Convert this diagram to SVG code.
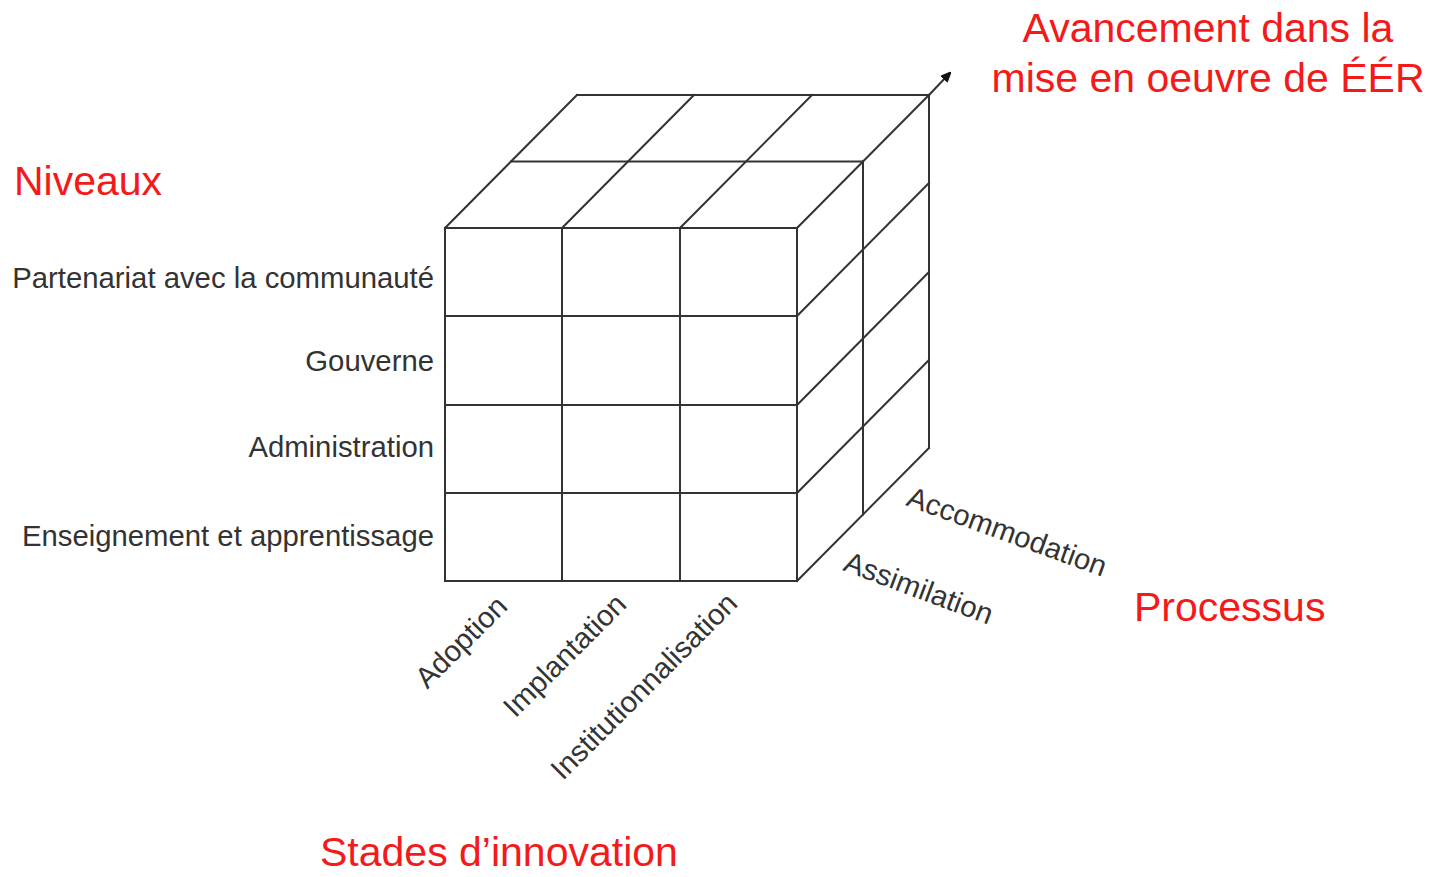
<svg xmlns="http://www.w3.org/2000/svg" width="1429" height="877" viewBox="0 0 1429 877">
<style>
.g{stroke:#333;stroke-width:2;fill:none;stroke-linecap:square}
.t{font-family:"Liberation Sans",Arial,sans-serif;font-size:29.3px;fill:#333}
.r{font-family:"Liberation Sans",Arial,sans-serif;font-size:41px;fill:#f41a1a}
</style>
<defs>
<marker id="ah" markerWidth="10" markerHeight="10" refX="6" refY="5" orient="auto" markerUnits="userSpaceOnUse"><path d="M0,0 L12,5 L0,10 z" fill="#111"/></marker>
</defs>
<rect width="1429" height="877" fill="#fff"/>
<g id="connectors">
<line class="g" x1="929" y1="95" x2="948" y2="75" marker-end="url(#ah)"/>
</g>
<g id="cube">
<rect class="g" x="445" y="228" width="352" height="353"/>
<line class="g" x1="562" y1="228" x2="562" y2="581"/>
<line class="g" x1="680" y1="228" x2="680" y2="581"/>
<line class="g" x1="445" y1="316" x2="797" y2="316"/>
<line class="g" x1="445" y1="405" x2="797" y2="405"/>
<line class="g" x1="445" y1="493" x2="797" y2="493"/>
<line class="g" x1="577" y1="95" x2="929" y2="95"/>
<line class="g" x1="511" y1="161.5" x2="863" y2="161.5"/>
<line class="g" x1="445" y1="228" x2="577" y2="95"/>
<line class="g" x1="562" y1="228" x2="694" y2="95"/>
<line class="g" x1="680" y1="228" x2="812" y2="95"/>
<line class="g" x1="797" y1="228" x2="929" y2="95"/>
<line class="g" x1="863" y1="161.5" x2="863" y2="514.5"/>
<line class="g" x1="929" y1="95" x2="929" y2="448"/>
<line class="g" x1="797" y1="316" x2="929" y2="183"/>
<line class="g" x1="797" y1="405" x2="929" y2="272"/>
<line class="g" x1="797" y1="493" x2="929" y2="360"/>
<line class="g" x1="797" y1="581" x2="929" y2="448"/>
</g>
<g id="levels" text-anchor="end">
<text class="t" x="434" y="288">Partenariat avec la communauté</text>
<text class="t" x="434" y="371">Gouverne</text>
<text class="t" x="434" y="457">Administration</text>
<text class="t" x="434" y="546">Enseignement et apprentissage</text>
</g>
<g id="stages" text-anchor="end">
<text class="t" transform="translate(509,608) rotate(-45)">Adoption</text>
<text class="t" transform="translate(628,606) rotate(-45)">Implantation</text>
<text class="t" transform="translate(739,605) rotate(-45)">Institutionnalisation</text>
</g>
<g id="processes">
<text class="t" transform="translate(905,505) rotate(20)">Accommodation</text>
<text class="t" transform="translate(842,570) rotate(20.5)">Assimilation</text>
</g>
<g id="titles">
<text class="r" x="1208" y="42" text-anchor="middle">Avancement dans la</text>
<text class="r" x="1208" y="92" text-anchor="middle">mise en oeuvre de ÉÉR</text>
<text class="r" x="14" y="195">Niveaux</text>
<text class="r" x="1134" y="621">Processus</text>
<text class="r" x="320" y="866">Stades d’innovation</text>
</g>
</svg>
